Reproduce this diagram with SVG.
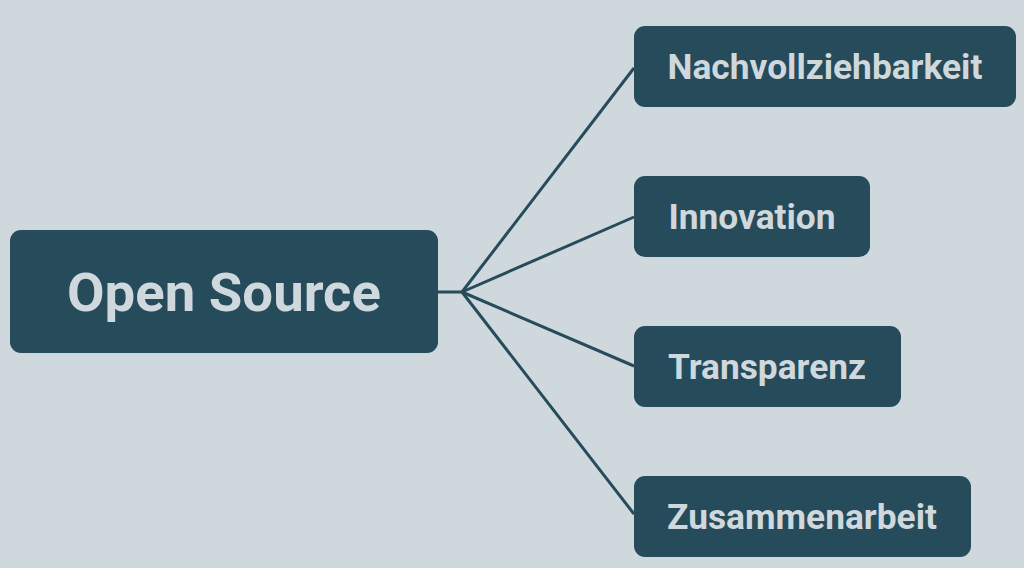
<svg xmlns="http://www.w3.org/2000/svg" width="1024" height="568" viewBox="0 0 1024 568">
<style>
.node{fill:#264b5b}
.lbl{font-family:Roboto,"Liberation Sans",sans-serif;font-weight:bold;fill:#cfd8dc;text-anchor:middle}
.child{font-size:35.3px}
.root{font-size:54.5px}
.conn{stroke:#264b5b;stroke-width:3;fill:none}
</style>
<rect width="1024" height="568" fill="#cfd8dc"/>
<g id="connectors">
<path class="conn" d="M438 292 H462"/>
<path class="conn" d="M462 292 L634 68"/>
<path class="conn" d="M462 292 L634 217"/>
<path class="conn" d="M462 292 L634 366"/>
<path class="conn" d="M462 292 L634 514"/>
</g>
<g id="root">
<rect class="node" x="10" y="230" width="428" height="123" rx="11"/>
<text class="lbl root" x="224" y="311">Open Source</text>
</g>
<g id="n1">
<rect class="node" x="634" y="26" width="382" height="81" rx="11"/>
<text class="lbl child" x="825" y="79">Nachvollziehbarkeit</text>
</g>
<g id="n2">
<rect class="node" x="634" y="176" width="236" height="81" rx="11"/>
<text class="lbl child" x="752" y="229">Innovation</text>
</g>
<g id="n3">
<rect class="node" x="634" y="326" width="267" height="81" rx="11"/>
<text class="lbl child" x="767" y="379">Transparenz</text>
</g>
<g id="n4">
<rect class="node" x="634" y="476" width="337" height="81" rx="11"/>
<text class="lbl child" x="802" y="529">Zusammenarbeit</text>
</g>
</svg>
